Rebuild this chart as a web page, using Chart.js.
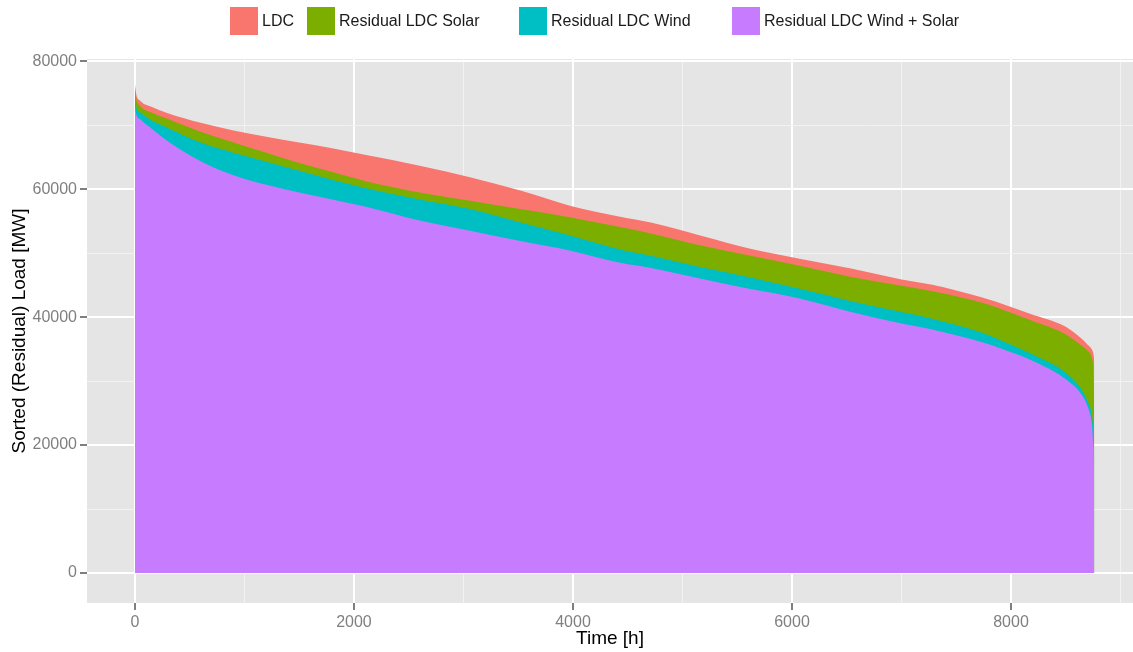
<!DOCTYPE html>
<html>
<head>
<meta charset="utf-8">
<title>Load duration curves</title>
<script src="https://cdn.jsdelivr.net/npm/chart.js@4.4.1/dist/chart.umd.min.js"></script>
<style>
  html, body { margin: 0; padding: 0; background: #ffffff; overflow: hidden; }
  canvas { display: block; }
</style>
</head>
<body>
<canvas id="ldc" width="1133" height="652"></canvas>
<script>
// Sorted hourly load and residual loads over one year (8760 h)
const seriesNames = ['LDC', 'Residual LDC Solar', 'Residual LDC Wind', 'Residual LDC Wind + Solar'];
const seriesColors = ['#F8766D', '#7CAE00', '#00BFC4', '#C77CFF'];

const hours = [0, 10, 50, 150, 300, 600, 900, 1200, 1500, 1800, 2100, 2600, 3060, 3520, 3980,
  4430, 4710, 5170, 5620, 6080, 6540, 7000, 7270, 7730, 8000, 8180, 8500, 8640, 8700, 8740,
  8752, 8757, 8760];

const ldc = [76500, 75000, 73800, 72900, 71900, 70400, 69200, 68200, 67300, 66400, 65400, 63700,
  61900, 59800, 57400, 55700, 54800, 52750, 50700, 49100, 47600, 45900, 45100, 43100, 41600,
  40500, 38500, 36700, 35700, 34900, 34300, 33700, 33000];

const resSolar = [76000, 74300, 73000, 72000, 71000, 69000, 67300, 65700, 64100, 62700, 61300,
  59500, 58200, 56900, 55600, 54100, 53100, 51200, 49600, 48000, 46300, 44900, 44100, 42300,
  40700, 39500, 37300, 35600, 34700, 33500, 31500, 27000, 20000];

const resWind = [74500, 73000, 72000, 70800, 69600, 67300, 65700, 64300, 62900, 61500, 60200,
  58400, 56900, 54800, 52750, 50600, 49600, 47800, 46200, 44400, 42500, 40800, 39800, 37600,
  35700, 34300, 31300, 28800, 26800, 24500, 22000, 20000, 18000];

const resWindSolar = [73000, 71800, 70900, 69500, 67500, 64400, 62200, 60700, 59500, 58400,
  57300, 55100, 53500, 51900, 50400, 48500, 47700, 46000, 44400, 42900, 40800, 39000, 38100,
  36100, 34500, 33300, 30300, 28000, 26000, 23000, 20000, 17000, -1000];

// Axis ticks: labelled (major) values and the lighter minor grid values
const xTickLabels = [0, 2000, 4000, 6000, 8000];
const xGridValues = [0, 1000, 2000, 3000, 4000, 5000, 6000, 7000, 8000, 9000];
const yTickLabels = [0, 20000, 40000, 60000, 80000];
const yGridValues = [0, 10000, 20000, 30000, 40000, 50000, 60000, 70000, 80000];

const FONT = '"Liberation Sans", Arial, Helvetica, sans-serif';
Chart.defaults.font.family = FONT;

const seriesValues = [ldc, resSolar, resWind, resWindSolar];
const datasets = seriesValues.map((vals, i) => ({
  label: seriesNames[i],
  data: hours.map((h, k) => ({ x: h, y: vals[k] })),
  backgroundColor: seriesColors[i],
  borderColor: seriesColors[i],
  borderWidth: 0,
  pointRadius: 0,
  fill: 'origin',
  cubicInterpolationMode: 'monotone',
  // later series are painted over earlier ones
  order: seriesValues.length - i
}));

// grey plotting panel behind the grid
const panelBackground = {
  id: 'panelBackground',
  beforeDraw(chart) {
    const { ctx, chartArea: a } = chart;
    ctx.save();
    ctx.fillStyle = '#ffffff';
    ctx.fillRect(0, 0, chart.width, chart.height);
    ctx.fillStyle = '#E5E5E5';
    ctx.fillRect(a.left, a.top, a.right - a.left, a.bottom - a.top);
    ctx.restore();
  }
};

// horizontal legend along the top edge
const legendKeyX = [230, 307, 519, 732];
const topLegend = {
  id: 'topLegend',
  afterDraw(chart) {
    const ctx = chart.ctx;
    ctx.save();
    ctx.font = '16px ' + FONT;
    ctx.textBaseline = 'middle';
    ctx.textAlign = 'left';
    chart.data.datasets.forEach((ds, i) => {
      const x = legendKeyX[i];
      ctx.fillStyle = ds.backgroundColor;
      ctx.fillRect(x, 7, 28, 28);
      ctx.fillStyle = '#1a1a1a';
      ctx.fillText(ds.label, x + 32, 22);
    });
    ctx.restore();
  }
};

const isMajor = (list, v) => list.indexOf(v) !== -1;

new Chart(document.getElementById('ldc'), {
  type: 'line',
  data: { datasets },
  options: {
    responsive: false,
    animation: false,
    events: [],
    devicePixelRatio: 1,
    layout: { padding: { top: 59, right: 0, bottom: 0, left: 0 } },
    plugins: {
      legend: { display: false },
      tooltip: { enabled: false },
      filler: { propagate: false }
    },
    scales: {
      x: {
        type: 'linear',
        min: -438,
        max: 9114,
        afterBuildTicks(scale) {
          scale.ticks = xGridValues.map(v => ({ value: v }));
        },
        afterFit(scale) { scale.height = 49; },
        border: { display: false },
        grid: {
          color: c => isMajor(xTickLabels, c.tick.value) ? '#FFFFFF' : '#F2F2F2',
          lineWidth: c => isMajor(xTickLabels, c.tick.value) ? 2 : 1,
          tickColor: c => isMajor(xTickLabels, c.tick.value) ? '#7F7F7F' : 'rgba(0,0,0,0)',
          tickWidth: 2,
          tickLength: 7
        },
        ticks: {
          autoSkip: false,
          maxRotation: 0,
          padding: 3,
          color: '#7F7F7F',
          font: { size: 16 },
          callback: v => isMajor(xTickLabels, v) ? String(v) : ''
        },
        title: {
          display: true,
          text: 'Time [h]',
          color: '#000000',
          font: { size: 19, lineHeight: 1.2 },
          padding: { top: 0, bottom: 2 }
        }
      },
      y: {
        type: 'linear',
        min: -4700,
        max: 80375,
        afterBuildTicks(scale) {
          scale.ticks = yGridValues.map(v => ({ value: v }));
        },
        afterFit(scale) { scale.width = 87; },
        border: { display: false },
        grid: {
          color: c => isMajor(yTickLabels, c.tick.value) ? '#FFFFFF' : '#F2F2F2',
          lineWidth: c => isMajor(yTickLabels, c.tick.value) ? 2 : 1,
          tickColor: c => isMajor(yTickLabels, c.tick.value) ? '#7F7F7F' : 'rgba(0,0,0,0)',
          tickWidth: 2,
          tickLength: 7
        },
        ticks: {
          autoSkip: false,
          padding: 3,
          color: '#7F7F7F',
          font: { size: 16 },
          callback: v => isMajor(yTickLabels, v) ? String(v) : ''
        },
        title: {
          display: true,
          text: 'Sorted (Residual) Load [MW]',
          color: '#000000',
          font: { size: 19, lineHeight: 1.2 },
          padding: { top: 8, bottom: 0 }
        }
      }
    }
  },
  plugins: [panelBackground, topLegend]
});
</script>
</body>
</html>
